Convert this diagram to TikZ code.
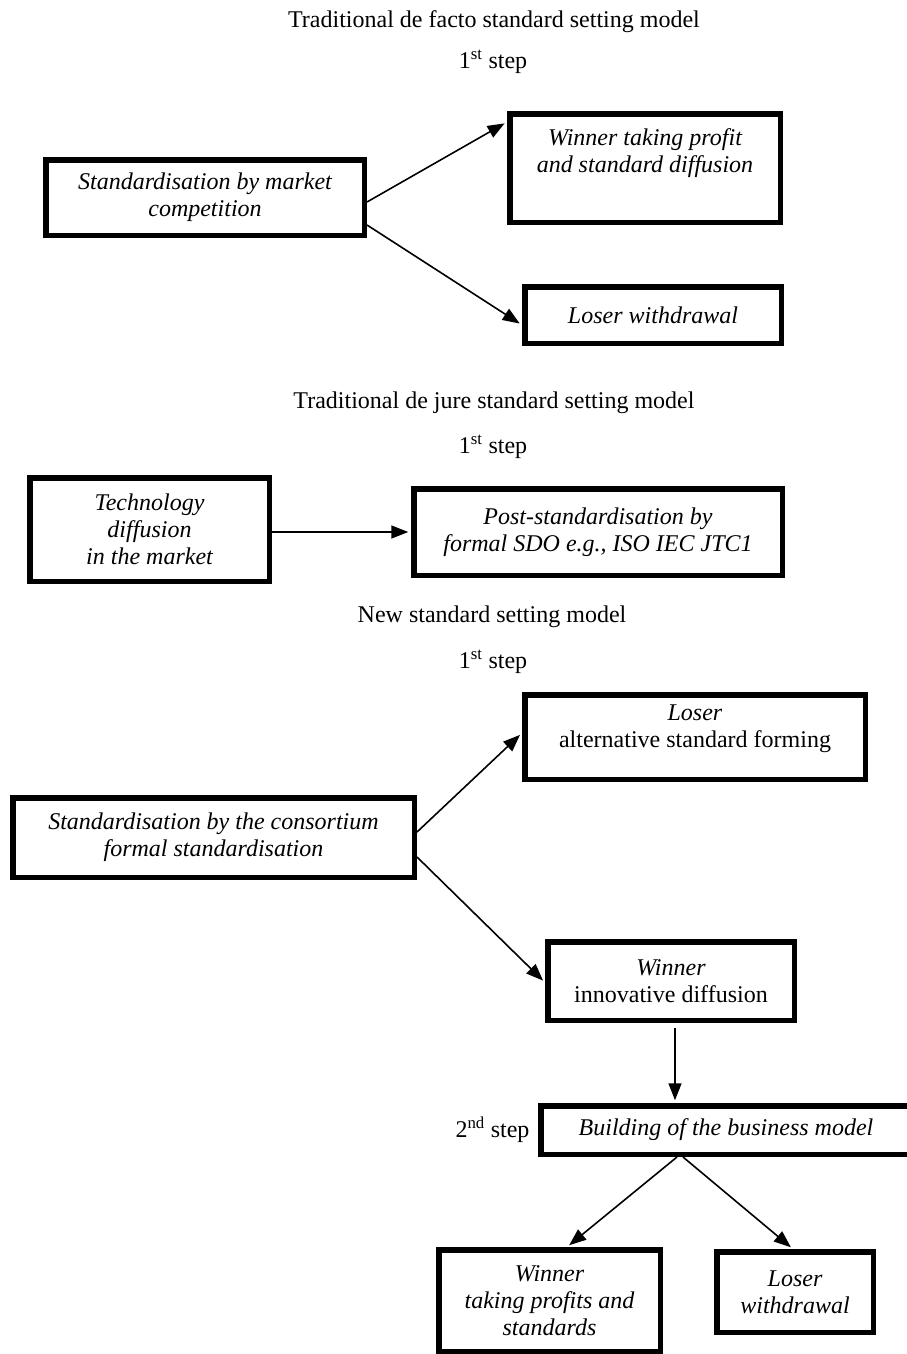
\documentclass[tikz,border=0pt]{standalone}
\usepackage{fontspec}
\setmainfont{Liberation Serif}
\usetikzlibrary{arrows.meta,calc}
\begin{document}
\begin{tikzpicture}[x=1pt,y=-1pt,
  every node/.style={font=\fontsize{24}{27}\selectfont, inner sep=0pt},
  every label/.style={font=\fontsize{24}{27}\selectfont, inner sep=0pt, align=center},
  box/.style={draw, line width=5.5pt, align=center, inner sep=0pt},
  itbox/.style={box, font=\fontsize{24}{27}\selectfont\itshape},
  conn/.style={line width=1.6pt, -{Triangle[length=17pt,width=13pt]}, shorten >=2.75pt}
]
\useasboundingbox (0,0) rectangle (907,1354);

% Section 1
\node (t1) at (494,22) {Traditional de facto standard setting model};
\node (s1) at (493,62) {1\textsuperscript{st} step};
\node[itbox, minimum width=318.5pt, minimum height=75.5pt] (A) at (205,197.5)
  {Standardisation by market\\competition};
\node[box, minimum width=270.5pt, minimum height=108.5pt,
  label={[name=Btxt, yshift=14.5pt, font=\fontsize{24}{27}\selectfont\itshape]center:Winner taking profit\\and standard diffusion}] (B) at (645,168) {};
\node[itbox, minimum width=256.5pt, minimum height=56.5pt] (C) at (653,315)
  {Loser withdrawal};

% Section 2
\node (t2) at (494,403) {Traditional de jure standard setting model};
\node (s2) at (493,447) {1\textsuperscript{st} step};
\node[itbox, minimum width=239.5pt, minimum height=103.5pt] (D) at (149.5,529.5)
  {Technology\\diffusion\\in the market};
\node[itbox, minimum width=368.5pt, minimum height=86.5pt] (E) at (598,532)
  {Post-standardisation by\\formal SDO e.g., ISO IEC JTC1};

% Section 3
\node (t3) at (492,617) {New standard setting model};
\node (s3) at (493,662) {1\textsuperscript{st} step};
\node[box, minimum width=340.5pt, minimum height=84.5pt,
  label={[name=Ftxt, yshift=8pt]center:\textit{Loser}\\alternative standard forming}] (F) at (695,737) {};
\node[itbox, minimum width=401.5pt, minimum height=79.5pt] (G) at (213.5,837.5)
  {Standardisation by the consortium\\formal standardisation};
\node[box, minimum width=246.5pt, minimum height=78.5pt] (H) at (671,981)
  {\textit{Winner}\\innovative diffusion};
\node[itbox, minimum width=370.5pt, minimum height=48.5pt] (I) at (726,1130)
  {Building of the business model};
\node (step2) at (492.5,1130) {2\textsuperscript{nd} step};
\node[itbox, minimum width=221.5pt, minimum height=101.5pt] (J) at (549.5,1300.5)
  {Winner\\taking profits and\\standards};
\node[itbox, minimum width=156.5pt, minimum height=80.5pt] (K) at (795,1292)
  {Loser\\withdrawal};

% Connectors
\draw[conn] ([yshift=-4.5pt]A.east) -- ([yshift=46pt]B.west);
\draw[conn] ([yshift=-27.5pt]A.east) -- ([yshift=-10pt]C.west);
\draw[conn] (D.east |- E.west) -- (E.west);
\draw[conn] ([yshift=5.5pt]G.east) -- ([yshift=4pt]F.west);
\draw[conn] ([yshift=-19.5pt]G.east) -- ([yshift=-1.5pt]H.west);
\draw[conn, shorten <=5pt] ([xshift=4pt]H.south) -- ([xshift=4pt]H.south |- I.north);
\draw[conn] ([xshift=-49pt]I.south) -- ([xshift=17.5pt]J.north);
\draw[conn] ([xshift=-43pt]I.south) -- ([xshift=-2pt]K.north);
\end{tikzpicture}
\end{document}
